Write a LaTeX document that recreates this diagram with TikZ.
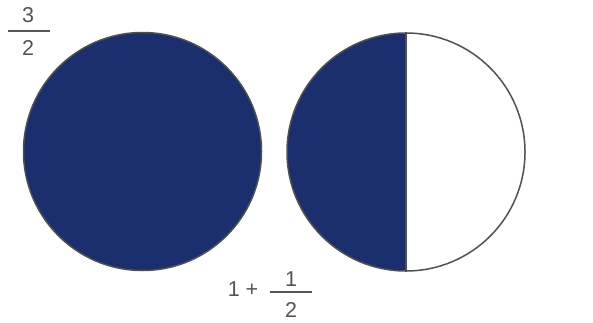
\documentclass[tikz,border=0pt]{standalone}
\usepackage{fontspec}
\setmainfont{Liberation Sans}
\definecolor{navy}{RGB}{27,46,110}
\definecolor{txtgray}{RGB}{85,85,85}
\definecolor{edgegray}{RGB}{80,80,80}
\tikzset{
  disc/.style={circle, minimum size=238pt, inner sep=0pt, draw=edgegray, line width=1.5pt},
  num/.style={text=txtgray, font=\fontsize{21.5}{24}\selectfont, inner sep=0pt},
  fracbar/.style={draw=txtgray, line width=1.6pt}
}
\begin{document}
\begin{tikzpicture}[x=1pt,y=1pt]
\useasboundingbox (0,0) rectangle (593,322);
% left full disc
\node[disc, fill=navy] (c1) at (142.5,170.5) {};
% right half disc
\node[disc, path picture={\fill[navy] (path picture bounding box.north west) rectangle (path picture bounding box.south);}] (c2) at (406,170) {};
\draw[draw=edgegray, line width=2pt] (c2.north) -- (c2.south);
% 3/2
\node[num] (n3) at (28,307) {3};
\node[num] (d2) at (28,274) {2};
\coordinate (b1l) at (8,291);
\coordinate (b1r) at (50,291);
\draw[fracbar] (b1l) -- (b1r);
% 1 + 1/2
\node[num] (onep) at (243,32.5) {1 +};
\node[num] (n1) at (291,43) {1};
\node[num] (d2b) at (291,12.5) {2};
\coordinate (b2l) at (270,30);
\coordinate (b2r) at (312,30);
\draw[fracbar] (b2l) -- (b2r);
\end{tikzpicture}
\end{document}
